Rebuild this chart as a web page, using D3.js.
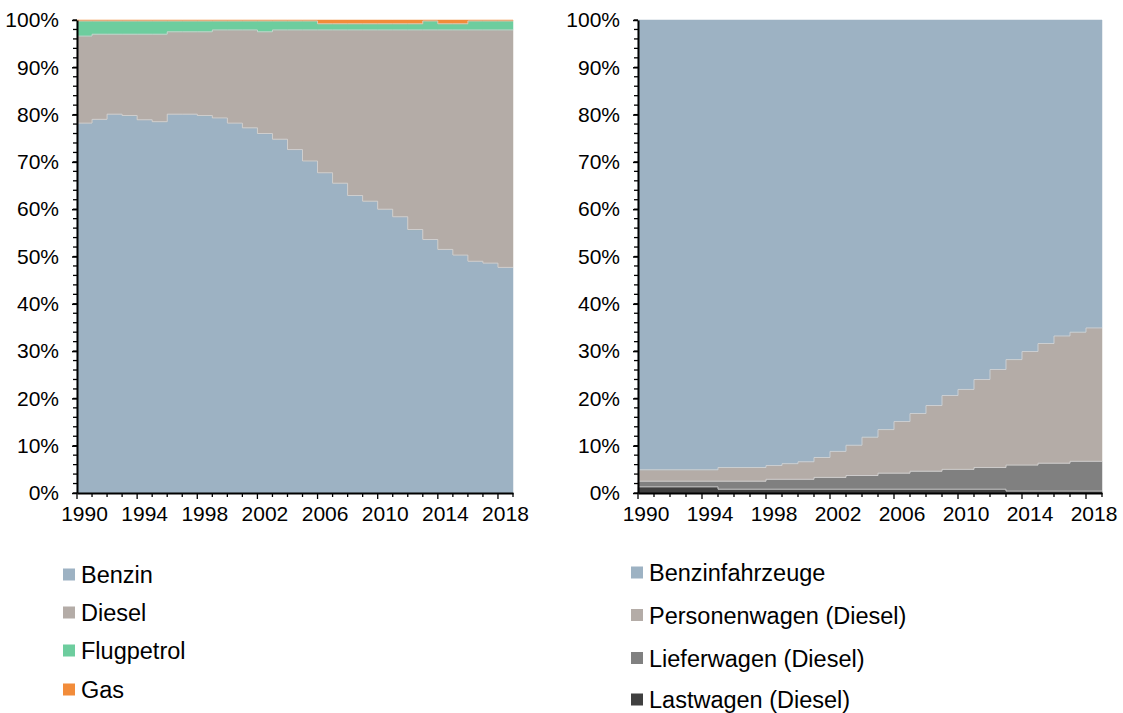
<!DOCTYPE html>
<html><head><meta charset="utf-8">
<script src="https://cdn.jsdelivr.net/npm/d3@7"></script>
<style>body{margin:0;background:#fff}svg{display:block}text{font-family:Arial,"Liberation Sans",sans-serif;fill:#000}</style>
</head><body><svg id="c" width="1123" height="713"></svg>
<script>
const years = [1990,1991,1992,1993,1994,1995,1996,1997,1998,1999,2000,2001,2002,2003,2004,2005,2006,2007,2008,2009,2010,2011,2012,2013,2014,2015,2016,2017,2018];
const xTickLabels = ["1990","1994","1998","2002","2006","2010","2014","2018"];
const yTickValues = [0,0.1,0.2,0.3,0.4,0.5,0.6,0.7,0.8,0.9,1];

// Left chart (shares in %)
const benzin = [78.2,79.0,80.1,79.8,78.9,78.5,80.1,80.1,79.8,79.3,78.2,77.2,76.0,74.8,72.6,70.2,67.7,65.5,62.9,61.7,60.0,58.4,55.7,53.6,51.5,50.3,49.0,48.6,47.7];
const diesel = [18.4,18.0,16.9,17.2,18.1,18.5,17.4,17.4,17.7,18.6,19.7,20.7,21.5,23.1,25.3,27.7,30.2,32.4,35.0,36.2,37.9,39.5,42.2,44.3,46.4,47.6,48.9,49.3,50.2];
const flugpetrol = [3.2,2.8,2.8,2.8,2.8,2.8,2.3,2.3,2.3,1.9,1.9,1.9,2.3,1.9,1.9,1.9,1.3,1.3,1.3,1.3,1.3,1.3,1.3,1.9,1.3,1.3,1.9,1.9,1.9];
const gas = [0.2,0.2,0.2,0.2,0.2,0.2,0.2,0.2,0.2,0.2,0.2,0.2,0.2,0.2,0.2,0.2,0.8,0.8,0.8,0.8,0.8,0.8,0.8,0.2,0.8,0.8,0.2,0.2,0.2];
const leftNames = ["Benzin","Diesel","Flugpetrol","Gas"];
const leftColors = ["#9db2c3","#b4aca7","#6dcd9e","#f28c3a"];

// Right chart (shares in %)
const lastwagen = [1.3,1.3,1.3,1.3,1.3,0.8,0.8,0.8,0.8,0.8,0.8,0.8,0.8,0.8,0.8,0.8,0.8,0.8,0.8,0.8,0.8,0.8,0.8,0.4,0.4,0.4,0.4,0.4,0.4];
const lieferwagen = [1.2,1.2,1.2,1.2,1.2,1.7,1.7,1.7,2.1,2.1,2.1,2.5,2.5,2.9,2.9,3.4,3.4,3.8,3.8,4.2,4.2,4.6,4.6,5.5,5.5,5.9,5.9,6.3,6.3];
const personenwagen = [2.4,2.4,2.4,2.4,2.4,2.9,2.9,2.9,2.9,3.3,3.7,4.2,5.5,6.4,8.1,9.2,10.9,12.2,13.9,15.6,16.9,18.6,20.7,22.3,24.0,25.3,26.9,27.3,28.2];
const benzinfahrzeuge = [95.1,95.1,95.1,95.1,95.1,94.6,94.6,94.6,94.2,93.8,93.4,92.5,91.2,89.9,88.2,86.6,84.9,83.2,81.5,79.4,78.1,76.0,73.9,71.8,70.1,68.4,66.8,66.0,65.1];
const rightNames = ["Lastwagen (Diesel)","Lieferwagen (Diesel)","Personenwagen (Diesel)","Benzinfahrzeuge"];
const rightColors = ["#404040","#808080","#b4aca7","#9db2c3"];

const svg = d3.select("#c");
svg.append("rect").attr("width",1123).attr("height",713).attr("fill","#fff");
const FONT = "Arial, 'Liberation Sans', sans-serif";

function drawChart(cfg){
  const {x0,x1,yTop,yBot,series,colors} = cfg;
  const g = svg.append("g");
  const rows = years.map((yr,i)=>{const r={year:yr}; series.forEach((s,k)=>r["s"+k]=s[i]); return r;});
  const keys = series.map((s,k)=>"s"+k);
  const stacked = d3.stack().keys(keys).offset(d3.stackOffsetExpand)(rows);
  const xi = d3.scaleLinear().domain([0, years.length]).range([x0,x1]);
  const band = d3.scaleBand().domain(years).range([x0,x1]).paddingInner(0).paddingOuter(0);
  const y = d3.scaleLinear().domain([0,1]).range([yBot,yTop]);
  const area = d3.area().curve(d3.curveStepAfter)
    .x(d=>xi(d.i)).y0(d=>y(d.v[0])).y1(d=>y(d.v[1]));
  stacked.forEach((layer,k)=>{
    const pts = layer.map((d,i)=>({i, v:[d[0],d[1]]}));
    pts.push({i:years.length, v:[layer[layer.length-1][0],layer[layer.length-1][1]]});
    g.append("path").attr("d",area(pts)).attr("fill",colors[k])
      .attr("stroke",colors[k]).attr("stroke-width",0.5);
  });
  const line = d3.line().curve(d3.curveStepAfter).x(d=>xi(d.i)).y(d=>y(d.v));
  stacked.slice(0,-1).forEach(layer=>{
    const pts = layer.map((d,i)=>({i,v:d[1]}));
    pts.push({i:years.length, v:layer[layer.length-1][1]});
    g.append("path").attr("d",line(pts)).attr("fill","none").attr("stroke","#d6d6d6").attr("stroke-width",0.8);
  });
  const minor = d3.range(0,51).map(v=>v/50);
  g.selectAll(".ym").data(minor).enter().append("line")
    .attr("x1",x0-4).attr("x2",x0).attr("y1",d=>y(d)).attr("y2",d=>y(d))
    .attr("stroke","#000").attr("stroke-width",1.3);
  const ya = d3.axisLeft(y).tickValues(yTickValues).tickFormat(d3.format(".0%")).tickSize(5).tickSizeOuter(0).tickPadding(13);
  const yg = g.append("g").attr("transform",`translate(${x0},0)`).call(ya);
  yg.select(".domain").attr("stroke","#000").attr("stroke-width",2);
  yg.selectAll(".tick line").attr("stroke","#000").attr("stroke-width",1.5);
  yg.selectAll("text").attr("font-size",21).attr("font-family",FONT).attr("fill","#000");
  const bounds = d3.range(0, years.length+1);
  g.selectAll(".xm").data(bounds).enter().append("line")
    .attr("x1",d=>xi(d)).attr("x2",d=>xi(d)).attr("y1",yBot).attr("y2",d=>yBot+(d%4===0?6:4))
    .attr("stroke","#000").attr("stroke-width",1.3);
  const xa = d3.axisBottom(band).tickValues(xTickLabels.map(Number)).tickSize(0).tickSizeOuter(0).tickPadding(13);
  const xg = g.append("g").attr("transform",`translate(0,${yBot})`).call(xa);
  xg.select(".domain").attr("stroke","#000").attr("stroke-width",2);
  xg.selectAll("text").attr("font-size",21).attr("font-family",FONT).attr("fill","#000");
}

drawChart({x0:77,x1:513,yTop:20,yBot:493,series:[benzin,diesel,flugpetrol,gas],colors:leftColors});
drawChart({x0:638,x1:1102,yTop:20,yBot:493,series:[lastwagen,lieferwagen,personenwagen,benzinfahrzeuge],colors:rightColors});

function legend(x, ys, names, colors){
  const g = svg.append("g");
  names.forEach((n,i)=>{
    g.append("rect").attr("x",x).attr("y",ys[i]-6).attr("width",12).attr("height",12).attr("fill",colors[i]);
    g.append("text").attr("x",x+18).attr("y",ys[i]+8.5).attr("font-size",23.5).attr("font-family",FONT).text(n);
  });
}
legend(63,[574.5,612.5,650.5,689.5],leftNames,leftColors);
legend(631,[572.5,615,658,699.5],["Benzinfahrzeuge","Personenwagen (Diesel)","Lieferwagen (Diesel)","Lastwagen (Diesel)"],["#9db2c3","#b4aca7","#808080","#404040"]);
</script></body></html>
